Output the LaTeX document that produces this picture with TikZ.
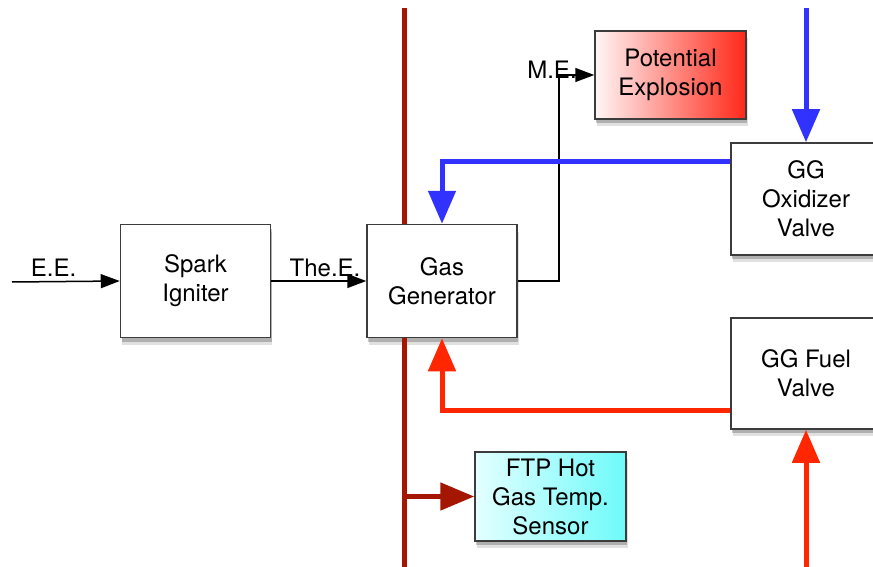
\documentclass[tikz,border=0pt]{standalone}
\usepackage{fontspec}
\setmainfont{TeX Gyre Heros}
\usetikzlibrary{arrows.meta,positioning,shadows}
\usepackage{xcolor}
\definecolor{BoxEdge}{RGB}{60,60,60}
\definecolor{HotRed}{RGB}{165,22,0}
\definecolor{OxBlue}{RGB}{50,50,255}
\definecolor{FuelRed}{RGB}{255,38,0}
\definecolor{AlarmRed}{RGB}{255,40,25}
\definecolor{SoftPink}{RGB}{255,246,246}
\definecolor{SensorCyan}{RGB}{110,250,250}
\definecolor{SoftCyan}{RGB}{228,255,255}
\tikzset{
  block/.style={draw=BoxEdge, fill=white, line width=1.5pt,
    minimum width=150pt, minimum height=113pt, align=center,
    font=\fontsize{24}{29}\selectfont,
    drop shadow={shadow xshift=1.5pt, shadow yshift=-7pt, opacity=0.12, fill=black},
    drop shadow={shadow xshift=1pt, shadow yshift=-4pt, opacity=0.22, fill=black}},
  alarmbox/.style={block, minimum height=88pt,
    left color=SoftPink, right color=AlarmRed},
  sensorbox/.style={block, minimum height=89pt,
    left color=SoftCyan, right color=SensorCyan},
  siglabel/.style={font=\fontsize{24}{29}\selectfont, anchor=base},
  signal/.style={-{Triangle[length=19pt,width=14pt]}, line width=1.5pt},
  hotgas/.style={line width=5pt, HotRed},
  hotflow/.style={hotgas, -{Triangle[length=34pt,width=27pt]}},
  oxflow/.style={-{Triangle[length=33pt,width=27pt]}, line width=5pt, OxBlue},
  fuelflow/.style={-{Triangle[length=33pt,width=27pt]}, line width=5pt, FuelRed}
}

\begin{document}
\begin{tikzpicture}[x=1pt,y=-1pt]
  \useasboundingbox (0,0) rectangle (873,567);
  % boxes
  \node[block] (spark) at (195.5,281) {Spark\\Igniter};
  \node[block,right=95pt of spark] (gasgen) {Gas\\Generator};
  \node[alarmbox,minimum width=151pt] (explosion) at (670.5,75) {Potential\\Explosion};
  \node[block,minimum height=112pt] (oxvalve) at (806,199) {GG\\Oxidizer\\Valve};
  \node[block,minimum height=111pt] (fuelvalve) at (806,373.5) {GG Fuel\\Valve};
  \node[sensorbox,minimum width=151pt] (ftpsensor) at (550.5,496.5) {FTP Hot\\Gas Temp.\\Sensor};
  % free ends
  \coordinate (eein) at (12,282);
  \coordinate (hottop) at (404.5,8);
  \coordinate (hotbot) at (404.5,567);
  \coordinate (oxin) at (806,8);
  \coordinate (fuelin) at (806,567);
  % energy signals
  \draw[signal] (eein) -- (spark.west);
  \node[siglabel] (eelabel) at (53.5,276) {E.E.};
  \draw[signal] (spark.east) -- (gasgen.west);
  \node[siglabel] (thelabel) at (325,276) {The.E.};
  \draw[signal] (gasgen.east) -- ++(41,0) |- (explosion.west);
  \node[siglabel] (melabel) at (552,79) {M.E.};
  % hot gas
  \draw[hotgas] (hottop) -- (hottop |- gasgen.north);
  \draw[hotgas] (hottop |- gasgen.south) -- (hotbot);
  \draw[hotflow] (hottop |- ftpsensor.west) -- (ftpsensor.west);
  % oxidizer
  \draw[oxflow] (oxin) -- (oxvalve.north);
  \draw[oxflow] (oxvalve.west) ++(0,-37) -| (gasgen.north);
  % fuel
  \draw[fuelflow] (fuelin) -- (fuelvalve.south);
  \draw[fuelflow] (fuelvalve.west) ++(0,36.5) -| (gasgen.south);
\end{tikzpicture}
\end{document}
